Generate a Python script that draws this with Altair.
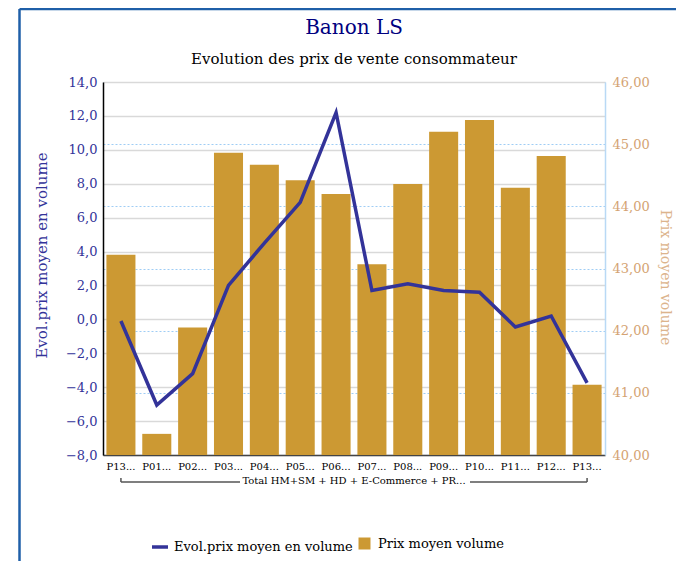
import altair as alt
import pandas as pd

labels = ["P13...", "P01...", "P02...", "P03...", "P04...", "P05...", "P06...",
          "P07...", "P08...", "P09...", "P10...", "P11...", "P12...", "P13..."]
evol = [-0.1, -5.05, -3.2, 2.0, 4.5, 6.9, 12.2, 1.7, 2.1, 1.7, 1.6, -0.45, 0.2, -3.75]
prix = [43.22, 40.34, 42.05, 44.86, 44.67, 44.42, 44.20, 43.07, 44.36, 45.20, 45.39, 44.30, 44.81, 41.13]
group_label = "Total HM+SM + HD + E-Commerce + PR..."
line_name = "Evol.prix moyen en volume"
bar_name = "Prix moyen volume"
title_text = "Banon LS"
subtitle_text = "Evolution des prix de vente consommateur"

FONT = "DejaVu Serif"
W, H = 502, 373

df = pd.DataFrame({
    "idx": list(range(len(labels))),
    "evol": evol,
    "prix": prix,
    "s": [line_name] * len(labels),
    "f": [bar_name] * len(labels),
})

label_arr = "[" + ",".join("'" + l + "'" for l in labels) + "]"

x_enc = alt.X("idx:O", title=None,
              scale=alt.Scale(paddingInner=0.19, paddingOuter=0.095),
              axis=alt.Axis(labelExpr=label_arr + "[datum.value]", labelAngle=0,
                            labelFont=FONT, labelFontSize=10, labelColor="black",
                            domainColor="#444444", domainWidth=1.5, ticks=False,
                            labelPadding=6))

base = alt.Chart(df)

bars = base.mark_bar().encode(
    x=x_enc,
    y=alt.Y("prix:Q", scale=alt.Scale(domain=[40, 46], zero=False, nice=False),
            axis=alt.Axis(orient="right", values=[40, 41, 42, 43, 44, 45, 46],
                          labelExpr="replace(format(datum.value, '.2f'), '.', ',')",
                          labelFont=FONT, labelFontSize=13, labelColor="#d4a373",
                          labelPadding=7,
                          grid=True, gridColor="#9fcdf5", gridDash=[2, 2], gridWidth=1,
                          domainColor="#b9d9f5", domainWidth=1.5, ticks=False,
                          title="Prix moyen volume", titleFont=FONT, titleFontSize=14,
                          titleFontWeight="normal", titleColor="#dcb48c",
                          titlePadding=8, titleY=195)),
    y2=alt.datum(40),
    color=alt.Color("f:N", scale=alt.Scale(domain=[bar_name], range=["#cc9933"]),
                    legend=alt.Legend(orient="none", legendX=255, legendY=455, title=None,
                                      symbolType="square", symbolSize=144,
                                      symbolFillColor="#cc9933", symbolStrokeWidth=0,
                                      labelLimit=300, labelOffset=7,
                                      labelFont=FONT, labelFontSize=13, labelColor="black")),
)

line = base.mark_line(strokeWidth=3.5).encode(
    x=x_enc,
    y=alt.Y("evol:Q", scale=alt.Scale(domain=[-8, 14], nice=False),
            axis=alt.Axis(orient="left", values=list(range(-8, 15, 2)),
                          labelExpr="replace(format(datum.value, '.1f'), '.', ',')",
                          labelFont=FONT, labelFontSize=13, labelColor="#333399",
                          labelPadding=6,
                          grid=True, gridColor="#d9d9d9", gridWidth=1.5,
                          domainColor="black", domainWidth=1.5, ticks=False,
                          title="Evol.prix moyen en volume", titleFont=FONT,
                          titleFontSize=15, titleFontWeight="normal",
                          titleColor="#333399", titlePadding=16, titleY=173)),
    stroke=alt.Stroke("s:N", scale=alt.Scale(domain=[line_name], range=["#333399"]),
                      legend=alt.Legend(orient="none", legendX=47, legendY=455, title=None,
                                        symbolType="stroke", symbolSize=256,
                                        symbolStrokeWidth=3.5, labelLimit=300,
                                        labelFont=FONT, labelFontSize=13, labelColor="black")),
)

one = alt.Chart(pd.DataFrame({"idx": [0], "a": [0]}))
last = alt.Chart(pd.DataFrame({"idx": [len(labels) - 1], "a": [0]}))

br_color = "#555555"
br_left = one.mark_rule(color=br_color, strokeWidth=1.5).encode(
    x="idx:O", x2=alt.value(137), y=alt.value(400))
br_right = last.mark_rule(color=br_color, strokeWidth=1.5).encode(
    x="idx:O", x2=alt.value(367), y=alt.value(400))
tick_l = one.mark_rule(color=br_color, strokeWidth=1.5).encode(
    x="idx:O", y=alt.value(396), y2=alt.value(400))
tick_r = last.mark_rule(color=br_color, strokeWidth=1.5).encode(
    x="idx:O", y=alt.value(396), y2=alt.value(400))
grp = one.mark_text(font=FONT, fontSize=10, color="black", baseline="middle").encode(
    x=alt.value(W / 2), y=alt.value(398.5), text=alt.value(group_label))

title_m = one.mark_text(font=FONT, fontSize=20, color="#000080", baseline="middle").encode(
    x=alt.value(W / 2), y=alt.value(-54), text=alt.value(title_text))
subtitle_m = one.mark_text(font=FONT, fontSize=15, color="black", baseline="middle").encode(
    x=alt.value(W / 2), y=alt.value(-23), text=alt.value(subtitle_text))

frame_color = "#1f5fa8"
frame_top = one.mark_rule(color=frame_color, strokeWidth=2.5).encode(
    x=alt.value(-83.5), x2=alt.value(590), y=alt.value(-73))
frame_left = one.mark_rule(color=frame_color, strokeWidth=2.5).encode(
    x=alt.value(-83.5), y=alt.value(-73), y2=alt.value(500))

chart = alt.layer(
    bars, line, br_left, br_right, tick_l, tick_r, grp, title_m, subtitle_m,
    frame_top, frame_left
).resolve_scale(
    y="independent", color="independent", stroke="independent"
).properties(
    width=W, height=H,
    autosize=alt.AutoSizeParams(type="none"),
    padding={"left": 95, "top": 74, "right": 71, "bottom": 106},
).configure_view(strokeWidth=0)

chart.save("out.html", embed_options={"renderer": "svg", "actions": False})
